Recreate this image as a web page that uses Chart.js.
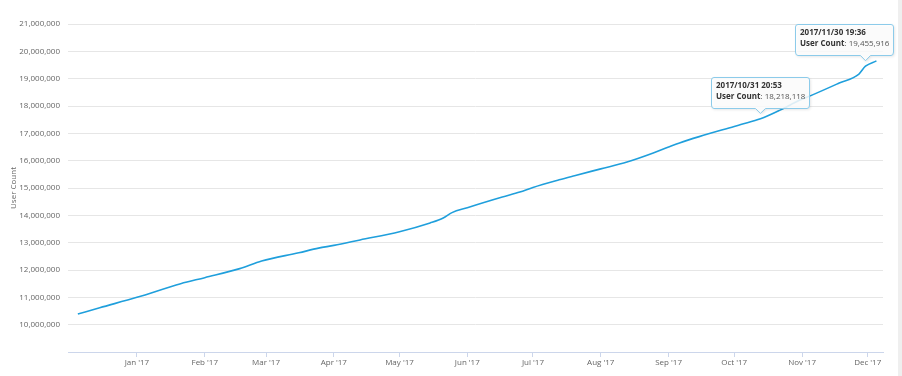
<!DOCTYPE html>
<html>
<head>
<meta charset="utf-8">
<script src="https://cdn.jsdelivr.net/npm/chart.js@4.4.1/dist/chart.umd.min.js"></script>
<style>
  html, body { margin: 0; padding: 0; background: #fff; }
  #wrap { position: relative; width: 902px; height: 376px; }
  #edge { position: absolute; top: 0; right: 0; width: 4px; height: 376px; background: #efefef; }
</style>
</head>
<body>
<div id="wrap">
  <canvas id="userChart"></canvas>
  <div id="edge"></div>
</div>
<script>
// user count samples (date, users)
const dates = [
  '2016-12-05', '2016-12-15', '2017-01-01', '2017-01-21', '2017-02-01',
  '2017-02-17', '2017-02-27', '2017-03-16', '2017-03-25', '2017-04-01',
  '2017-04-13', '2017-05-01', '2017-05-15', '2017-05-21', '2017-05-25',
  '2017-06-01', '2017-06-17', '2017-06-25', '2017-07-01', '2017-07-13',
  '2017-07-20', '2017-08-01', '2017-08-13', '2017-08-25', '2017-09-01',
  '2017-09-06', '2017-09-15', '2017-10-01', '2017-10-04', '2017-10-13',
  '2017-10-22', '2017-10-31', '2017-11-05', '2017-11-18', '2017-11-27',
  '2017-11-30', '2017-12-05'
];
const userCounts = [
  10390000, 10620000, 11000000, 11500000, 11720000,
  12050000, 12330000, 12630000, 12800000, 12900000,
  13100000, 13400000, 13720000, 13900000, 14100000,
  14280000, 14670000, 14850000, 15020000, 15300000,
  15450000, 15700000, 15950000, 16280000, 16500000,
  16650000, 16880000, 17250000, 17320000, 17530000,
  17850000, 18218118, 18380000, 18840000, 19170000,
  19455916, 19650000
];

// month ticks on the x axis
const monthStarts = [
  '2017-01-01', '2017-02-01', '2017-03-01', '2017-04-01', '2017-05-01', '2017-06-01',
  '2017-07-01', '2017-08-01', '2017-09-01', '2017-10-01', '2017-11-01', '2017-12-01'
];
const monthLabels = [
  "Jan '17", "Feb '17", "Mar '17", "Apr '17", "May '17", "Jun '17",
  "Jul '17", "Aug '17", "Sep '17", "Oct '17", "Nov '17", "Dec '17"
];

// the two hover boxes shown in the picture
const tipAnchors = ['2017-10-13', '2017-11-30'];
const tipTitles = ['2017/10/31 20:53', '2017/11/30 19:36'];
const tipValues = [18218118, 19455916];

const FONT = "'Open Sans', 'Noto Sans', sans-serif";
const DAY = 86400000;
const origin = Date.UTC(2017, 0, 1);
function dayOf(s) {
  const p = s.split('-');
  return (Date.UTC(+p[0], +p[1] - 1, +p[2]) - origin) / DAY;
}

const points = dates.map((d, i) => ({ x: dayOf(d), y: userCounts[i] }));

const calloutPlugin = {
  id: 'callouts',
  afterDraw(chart) {
    const ctx = chart.ctx;
    const xs = chart.scales.x, ys = chart.scales.y;
    tipAnchors.forEach((a, i) => {
      const idx = dates.indexOf(a);
      const px = xs.getPixelForValue(dayOf(a));
      const py = ys.getPixelForValue(userCounts[idx]);
      const tipX = px, tipY = py - 6;

      const title = tipTitles[i];
      const label = 'User Count';
      const val = ': ' + tipValues[i].toLocaleString('en-US');
      ctx.save();
      ctx.font = 'bold 8px ' + FONT;
      const wTitle = ctx.measureText(title).width;
      const wLabel = ctx.measureText(label).width;
      ctx.font = '8px ' + FONT;
      const wVal = ctx.measureText(val).width;
      const w = Math.ceil(Math.max(wTitle, wLabel + wVal) + 9);
      const h = 31;
      let left = Math.round(tipX - w / 2);
      if (left + w > chart.width - 8) left = chart.width - 8 - w;
      const bottom = Math.round(tipY - 5);
      const top = bottom - h;
      const r = 3;

      ctx.beginPath();
      ctx.moveTo(left + r, top + 0.5);
      ctx.lineTo(left + w - r, top + 0.5);
      ctx.quadraticCurveTo(left + w - 0.5, top + 0.5, left + w - 0.5, top + r);
      ctx.lineTo(left + w - 0.5, bottom - r);
      ctx.quadraticCurveTo(left + w - 0.5, bottom + 0.5, left + w - r, bottom + 0.5);
      ctx.lineTo(tipX + 5, bottom + 0.5);
      ctx.lineTo(tipX, tipY + 0.5);
      ctx.lineTo(tipX - 5, bottom + 0.5);
      ctx.lineTo(left + r, bottom + 0.5);
      ctx.quadraticCurveTo(left + 0.5, bottom + 0.5, left + 0.5, bottom - r);
      ctx.lineTo(left + 0.5, top + r);
      ctx.quadraticCurveTo(left + 0.5, top + 0.5, left + r, top + 0.5);
      ctx.closePath();
      ctx.shadowColor = 'rgba(0,0,0,0.15)';
      ctx.shadowBlur = 3;
      ctx.shadowOffsetX = 1;
      ctx.shadowOffsetY = 1;
      ctx.fillStyle = 'rgba(255,255,255,0.85)';
      ctx.fill();
      ctx.shadowColor = 'transparent';
      ctx.strokeStyle = '#8ccbea';
      ctx.lineWidth = 1;
      ctx.stroke();

      ctx.textBaseline = 'middle';
      ctx.textAlign = 'left';
      ctx.fillStyle = '#333';
      ctx.font = 'bold 8px ' + FONT;
      ctx.fillText(title, left + 5, top + 9);
      ctx.fillText(label, left + 5, top + 20);
      ctx.font = '8px ' + FONT;
      ctx.fillStyle = '#555';
      ctx.fillText(val, left + 5 + wLabel, top + 20);
      ctx.restore();
    });
  }
};

new Chart(document.getElementById('userChart'), {
  type: 'line',
  data: {
    datasets: [{
      label: 'User Count',
      data: points,
      borderColor: '#1f9fdc',
      borderWidth: 1.6,
      pointRadius: 0,
      cubicInterpolationMode: 'monotone',
      fill: false
    }]
  },
  options: {
    responsive: true,
    maintainAspectRatio: false,
    animation: false,
    layout: { padding: { top: 24, right: 19, bottom: 0, left: 0 } },
    plugins: {
      legend: { display: false },
      tooltip: { enabled: false }
    },
    scales: {
      x: {
        type: 'linear',
        min: -31.5,
        max: 341,
        afterBuildTicks: scale => {
          scale.ticks = monthStarts.map(d => ({ value: dayOf(d) }));
        },
        afterFit: scale => { scale.height = 24; },
        ticks: {
          autoSkip: false,
          maxRotation: 0,
          padding: 1,
          color: '#666',
          font: { family: FONT, size: 8 },
          callback: (value, index) => monthLabels[index]
        },
        grid: {
          drawOnChartArea: false,
          drawTicks: true,
          tickLength: 5,
          color: '#ccd6eb'
        },
        border: { display: true, color: '#ccd6eb' }
      },
      y: {
        min: 9000000,
        max: 21000000,
        afterFit: scale => { scale.width = 68; },
        ticks: {
          stepSize: 1000000,
          padding: 8,
          color: '#666',
          font: { family: FONT, size: 8 },
          callback: v => v === 9000000 ? '' : v.toLocaleString('en-US')
        },
        grid: { color: '#e6e6e6', drawTicks: false },
        border: { display: false },
        title: {
          display: true,
          text: 'User Count',
          color: '#666',
          font: { family: FONT, size: 8 },
          padding: { top: 9, bottom: 0 }
        }
      }
    }
  },
  plugins: [calloutPlugin]
});
</script>
</body>
</html>
